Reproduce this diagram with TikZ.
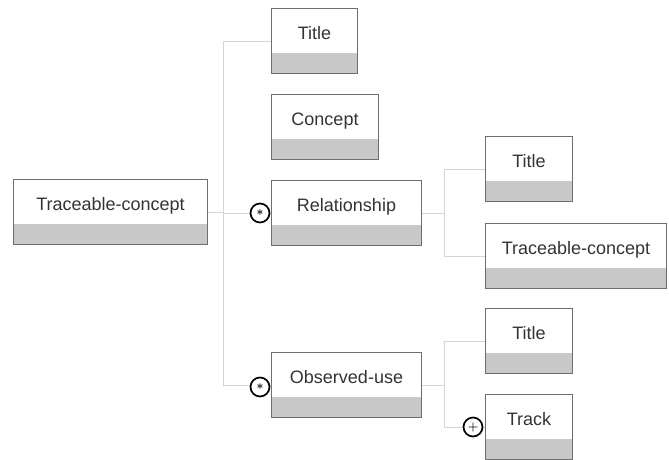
\documentclass[tikz,border=0pt]{standalone}
\usepackage{fontspec}
\setmainfont{Liberation Sans}
\usetikzlibrary{positioning}
\definecolor{boxline}{HTML}{6E6E6E}
\definecolor{boxfoot}{HTML}{C8C8C8}
\definecolor{treeline}{HTML}{D4D4D4}
\definecolor{labeltext}{HTML}{333333}
\tikzset{
  elem/.style={draw=boxline, line width=1pt, rectangle, anchor=north west,
    inner xsep=0pt, inner ysep=0pt, minimum height=65pt,
    text height=31pt, text depth=34pt, text=labeltext,
    font=\fontsize{18}{21}\selectfont,
    path picture={\fill[boxfoot] (path picture bounding box.south west)
      rectangle ([yshift=21pt]path picture bounding box.south east);}},
  conn/.style={draw=treeline, line width=0.9pt},
  mult/.style={circle, draw=black, line width=1.7pt, fill=white,
    inner sep=0pt, minimum size=19pt, font=\large\boldmath},
}
\begin{document}
\begin{tikzpicture}[x=1pt, y=-1pt]
        \useasboundingbox (0,0) rectangle (669,459);

        % 元素
        \node[elem, minimum width=194pt] (tc) at (13,179) {Traceable-concept};
        \node[elem, minimum width=86pt] (title) at (271,8) {Title};
        \node[elem, minimum width=107pt] (concept) at (271,94) {Concept};
        \node[elem, minimum width=150pt] (rel) at (271,180) {Relationship};
        \node[elem, minimum width=150pt] (obs) at (271,352) {Observed-use};
        \node[elem, minimum width=87pt] (reltitle) at (485,136) {Title};
        \node[elem, minimum width=181pt] (reltc) at (485,223) {Traceable-concept};
        \node[elem, minimum width=87pt] (obstitle) at (485,308) {Title};
        \node[elem, minimum width=87pt] (track) at (485,394) {Track};

        % 连线
        \coordinate (trunk) at ([xshift=15pt]tc.east);
        \draw[conn] (tc.east) -- (trunk);
        \draw[conn] (trunk) |- (title.west);
        \draw[conn] (trunk) |- (obs.west);
        \draw[conn] (trunk |- rel.west) -- (rel.west);

        \coordinate (relfork) at ([xshift=22pt]rel.east);
        \draw[conn] (rel.east) -- (relfork);
        \draw[conn] (relfork) |- (reltitle.west);
        \draw[conn] (relfork) |- (reltc.west);

        \coordinate (obsfork) at ([xshift=22pt]obs.east);
        \draw[conn] (obs.east) -- (obsfork);
        \draw[conn] (obsfork) |- (obstitle.west);
        \draw[conn] (obsfork) |- (track.west);

        % 多重性
        \node[mult] (relmany) at ([xshift=-11pt]rel.west) {$\ast$};
        \node[mult] (obsmany) at ([xshift=-11pt,yshift=-2pt]obs.west) {$\ast$};
        \node[mult] (trackmany) at ([xshift=-12pt]track.west) {$+$};
    \end{tikzpicture}
\end{document}
